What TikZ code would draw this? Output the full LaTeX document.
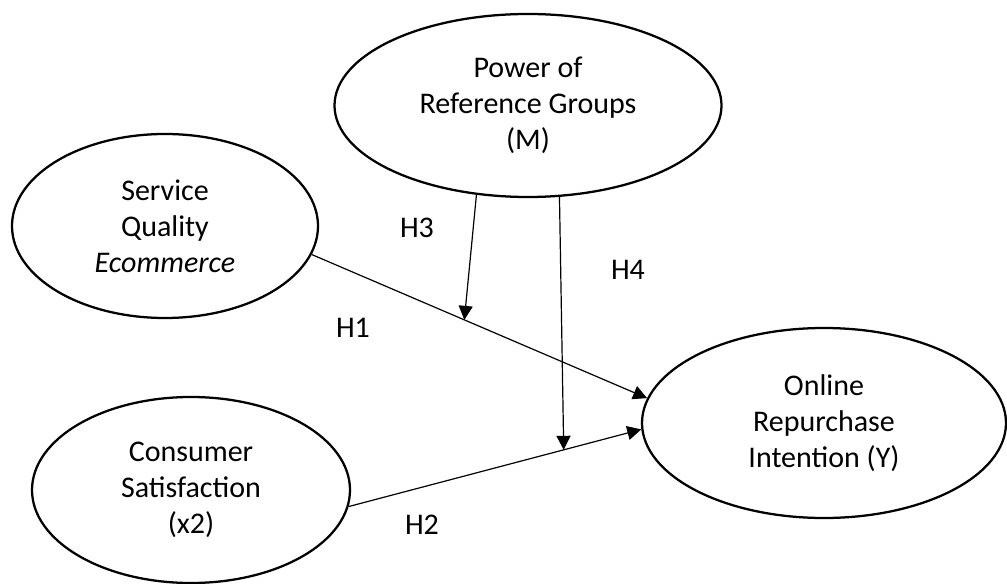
\documentclass[tikz,border=0pt]{standalone}
\usepackage{fontspec}
\setmainfont{Carlito}
\usetikzlibrary{shapes.geometric,arrows.meta}

\begin{document}
\begin{tikzpicture}[x=0.75pt,y=-0.75pt,
  construct/.style={ellipse,draw,line width=1.7pt,inner sep=0pt,align=center,
    font=\fontsize{22.5pt}{27pt}\selectfont},
  conn/.style={line width=0.9pt,-{Triangle[length=10.5pt,width=10.5pt]}},
  hyp/.style={font=\fontsize{22.5pt}{27pt}\selectfont,inner sep=0pt}]
\useasboundingbox (0,0) rectangle (1007,584);

% constructs (sizes in pt)
\node[construct,minimum width=290.25pt,minimum height=137.25pt] (m)  at (528,105.5) {Power of\\Reference Groups\\(M)};
\node[construct,minimum width=229.5pt,minimum height=138pt]     (sq) at (165,226)   {Service\\Quality\\\textit{Ecommerce}};
\node[construct,minimum width=238.5pt,minimum height=139.5pt]   (cs) at (191,490)   {Consumer\\Satisfaction\\(x2)};
\node[construct,minimum width=273pt,minimum height=142.5pt]     (or) at (824,423)   {Online\\Repurchase\\Intention (Y)};

% direct effects, with points where the moderating arrows meet them
\draw[conn] (sq.-11.1) -- coordinate[pos=0.455] (h1m) (or.172.1);
\draw[conn] (cs.-6.8)  -- coordinate[pos=0.735] (h2m) (or.-178.7);

% moderating effects
\draw[conn] (m.-120.1) -- (h1m);
\draw[conn] (m.-71.5)  -- (h2m);

% hypothesis labels
\node[hyp] (l1) at (353,328) {H1};
\node[hyp] (l2) at (422,525) {H2};
\node[hyp] (l3) at (417,228) {H3};
\node[hyp] (l4) at (628,270) {H4};
\end{tikzpicture}
\end{document}
